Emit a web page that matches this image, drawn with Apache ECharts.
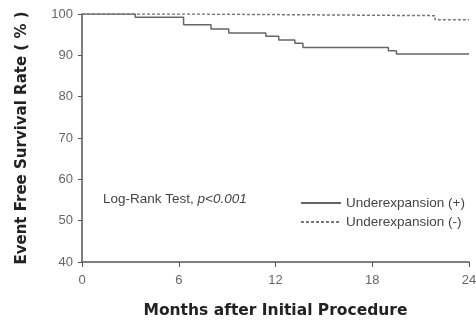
<!DOCTYPE html>
<html>
<head>
<meta charset="utf-8">
<script src="https://cdn.jsdelivr.net/npm/echarts@6/dist/echarts.min.js"></script>
<style>
html, body { margin: 0; padding: 0; background: #fff; }
#chart { width: 476px; height: 320px; }
</style>
</head>
<body>
<div id="chart"></div>
<script>
// months at which each curve steps, and the survival rate (%) after the step
var plusMonths = [0, 3.3, 6.3, 8.0, 9.1, 11.4, 12.2, 13.2, 13.7, 19.0, 19.5, 24];
var plusRates = [100, 99.2, 97.4, 96.4, 95.4, 94.6, 93.7, 92.9, 91.9, 91.1, 90.3, 90.3];
var minusMonths = [0, 6.6, 21.9, 24];
var minusRates = [100, 99.6, 98.6, 98.6];
var xTicks = [0, 6, 12, 18, 24];
var seriesNames = ['Underexpansion (+)', 'Underexpansion (-)'];

function pairs(xs, ys) {
	var out = [];
	for (var i = 0; i < xs.length; i++) {
		out.push([xs[i], ys[i]]);
	}
	return out;
}

var myChart = echarts.init(document.getElementById('chart'));
var font = 'Liberation Sans';
var titleFont = 'DejaVu Sans';
var option = {
	animation: false,
	textStyle: { fontFamily: font },
	grid: { left: 82, right: 7, top: 14, bottom: 58, outerBoundsMode: 'none', containLabel: false },
	legend: {
		orient: 'vertical',
		left: 295,
		top: 191,
		itemWidth: 40,
		itemHeight: 14,
		itemGap: 5,
		itemStyle: { opacity: 0 },
		textStyle: { fontFamily: font, fontSize: 13.5, color: '#444' },
		data: seriesNames
	},
	xAxis: {
		type: 'value',
		min: 0,
		max: 24,
		interval: 6,
		name: 'Months after Initial Procedure',
		nameLocation: 'middle',
		nameGap: 41,
		nameTextStyle: { fontFamily: titleFont, fontSize: 15.5, fontWeight: 'bold', color: '#222' },
		axisLine: { lineStyle: { color: '#555', width: 1.5 } },
		axisTick: { show: true, length: 5, lineStyle: { color: '#555' } },
		axisLabel: {
			color: '#666', fontSize: 13, margin: 12,
			formatter: function (v) { return xTicks.indexOf(v) >= 0 ? String(v) : ''; }
		},
		splitLine: { show: false }
	},
	yAxis: {
		type: 'value',
		min: 40,
		max: 100,
		interval: 10,
		name: 'Event Free Survival Rate ( % )',
		nameLocation: 'middle',
		nameGap: 52,
		nameTextStyle: { fontFamily: titleFont, fontSize: 15, fontWeight: 'bold', color: '#222' },
		axisLine: { show: true, lineStyle: { color: '#555', width: 1.5 } },
		axisTick: { show: true, length: 4, lineStyle: { color: '#555' } },
		axisLabel: { color: '#666', fontSize: 13, margin: 9 },
		splitLine: { show: false }
	},
	graphic: [{
		type: 'text',
		left: 103,
		top: 192,
		style: {
			text: '{n|Log-Rank Test, }{i|p<0.001}',
			rich: {
				n: { fontFamily: font, fontSize: 13.5, fill: '#444' },
				i: { fontFamily: font, fontSize: 13.5, fill: '#444', fontStyle: 'italic' }
			}
		}
	}],
	series: [{
		name: seriesNames[0],
		type: 'line',
		step: 'end',
		symbol: 'none',
		lineStyle: { color: '#666', width: 1.5 },
		itemStyle: { color: '#666' },
		data: pairs(plusMonths, plusRates)
	}, {
		name: seriesNames[1],
		type: 'line',
		step: 'end',
		symbol: 'none',
		lineStyle: { color: '#777', width: 1.5, type: [3, 2] },
		itemStyle: { color: '#777' },
		data: pairs(minusMonths, minusRates)
	}]
};
myChart.setOption(option);
</script>
</body>
</html>
